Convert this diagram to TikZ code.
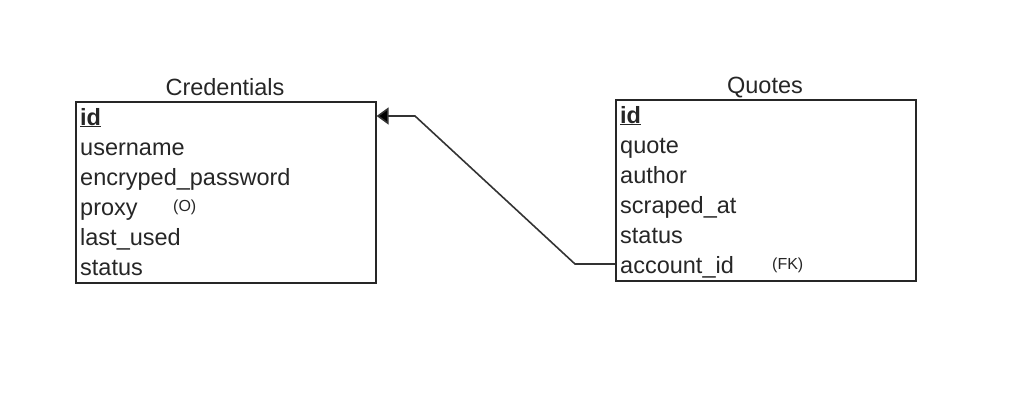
\documentclass[tikz,border=0pt]{standalone}
\usepackage{fontspec}
\setmainfont{Liberation Sans}
\usetikzlibrary{arrows.meta}
\tikzset{
  tbl/.style={draw=black!85, line width=1.6pt, minimum width=300pt, minimum height=181pt, inner sep=0pt, anchor=north west},
  row/.style={anchor=base west, inner sep=0pt, font=\fontsize{23.5}{28}\selectfont, text=black!85},
  ttl/.style={anchor=base, inner sep=0pt, font=\fontsize{23.5}{28}\selectfont, text=black!85},
  tag/.style={anchor=base west, inner sep=0pt, font=\fontsize{16}{19}\selectfont, text=black!85},
  conn/.style={draw=black!80, line width=1.6pt, -{Triangle[length=12pt,width=17pt,fill=black]}}
}
\begin{document}
\begin{tikzpicture}[x=1pt,y=-1pt]
\useasboundingbox (0,0) rectangle (1010,410);
% Credentials
\node[tbl] (cbox) at (75,101) {};
\node[ttl] (ctitle) at (225,95) {Credentials};
\node[row] (cid) at (80,125) {\underline{\textbf{id}}};
\node[row] (cuser) at (80,155) {username};
\node[row] (cpass) at (80,185) {encryped\_password};
\node[row] (cproxy) at (80,215) {proxy};
\node[tag] (co) at (173,211) {(O)};
\node[row] (clast) at (80,245) {last\_used};
\node[row] (cstat) at (80,275) {status};
% Quotes
\node[tbl] (qbox) at (615,99) {};
\node[ttl] (qtitle) at (765,93) {Quotes};
\node[row] (qid) at (620,123) {\underline{\textbf{id}}};
\node[row] (qquote) at (620,153) {quote};
\node[row] (qauth) at (620,183) {author};
\node[row] (qscr) at (620,213) {scraped\_at};
\node[row] (qstat) at (620,243) {status};
\node[row] (qacc) at (620,273) {account\_id};
\node[tag] (qfk) at (772,269) {(FK)};
% connector
\coordinate (b1) at (575,264);
\coordinate (b2) at (415,116);
\draw[conn] (qbox.west |- b1) -- (b1) -- (b2) -- (b2 -| cbox.east);
\end{tikzpicture}
\end{document}
